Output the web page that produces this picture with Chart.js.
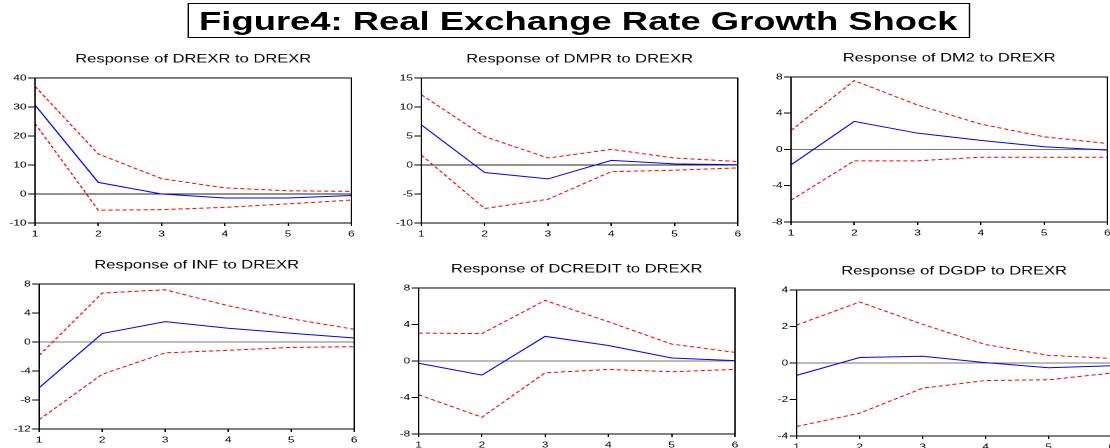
<!DOCTYPE html>
<html>
<head>
<meta charset="utf-8">
<title>Figure4: Real Exchange Rate Growth Shock</title>
<script src="https://cdn.jsdelivr.net/npm/chart.js@4.4.1/dist/chart.umd.min.js"></script>
<style>
html, body { margin: 0; padding: 0; background: #fff; overflow: hidden; width: 1110px; height: 448px; }
/* the source picture is stretched sideways, so the page is laid out narrow and widened */
#page { position: absolute; left: 0; top: 0; width: 793px; height: 448px; transform: scaleX(1.4); transform-origin: 0 0; }
#fig { position: absolute; left: 133.6px; top: 3px; width: 557px; height: 33px; border: 1px solid #000;
       font: bold 26px "Liberation Sans", Arial, sans-serif; text-align: center; line-height: 34px; color: #000; }
.panel { position: absolute; }
</style>
</head>
<body>
<div id="page">
  <div id="fig">Figure4: Real Exchange Rate Growth Shock</div>
  <div class="panel" style="left:1px;top:53px;width:256px;height:186px"><canvas id="c1"></canvas></div>
  <div class="panel" style="left:277px;top:53px;width:256px;height:186px"><canvas id="c2"></canvas></div>
  <div class="panel" style="left:541px;top:52px;width:256px;height:186px"><canvas id="c3"></canvas></div>
  <div class="panel" style="left:4px;top:259px;width:255px;height:186px"><canvas id="c4"></canvas></div>
  <div class="panel" style="left:275px;top:263px;width:256px;height:187px"><canvas id="c5"></canvas></div>
  <div class="panel" style="left:545px;top:265px;width:255px;height:187px"><canvas id="c6"></canvas></div>
</div>
<script>
const periods = ['1', '2', '3', '4', '5', '6'];

// response of each variable to a DREXR shock, with +/- 2 s.e. bands
const drexrResp  = [30.7, 4.0, 0.0, -1.4, -1.4, -0.5];
const drexrUpper = [37.1, 13.8, 5.3, 2.1, 1.1, 0.9];
const drexrLower = [24.3, -5.6, -5.4, -4.6, -3.4, -2.1];

const dmprResp  = [6.9, -1.3, -2.4, 0.8, 0.2, 0.05];
const dmprUpper = [12.1, 4.9, 1.2, 2.7, 1.2, 0.6];
const dmprLower = [1.7, -7.5, -5.9, -1.15, -0.9, -0.5];

const dm2Resp  = [-1.7, 3.1, 1.8, 1.0, 0.3, -0.07];
const dm2Upper = [2.1, 7.6, 4.9, 2.8, 1.4, 0.66];
const dm2Lower = [-5.6, -1.25, -1.25, -0.85, -0.85, -0.85];

const infResp  = [-6.3, 1.16, 2.8, 1.9, 1.2, 0.55];
const infUpper = [-1.85, 6.75, 7.2, 5.0, 3.2, 1.75];
const infLower = [-10.7, -4.45, -1.5, -1.15, -0.75, -0.65];

const dcreditResp  = [-0.25, -1.55, 2.7, 1.7, 0.33, 0.04];
const dcreditUpper = [3.06, 3.0, 6.64, 4.3, 1.85, 0.95];
const dcreditLower = [-3.7, -6.16, -1.3, -0.92, -1.18, -0.92];

const dgdpResp  = [-0.68, 0.3, 0.37, 0.02, -0.26, -0.15];
const dgdpUpper = [2.08, 3.34, 2.12, 1.01, 0.42, 0.25];
const dgdpLower = [-3.48, -2.75, -1.38, -0.96, -0.92, -0.55];

const panelTitles = [
  'Response of DREXR to DREXR', 'Response of DMPR to DREXR', 'Response of DM2 to DREXR',
  'Response of INF to DREXR', 'Response of DCREDIT to DREXR', 'Response of DGDP to DREXR'
];
const yMins  = [-10, -10, -8, -12, -8, -4];
const yMaxs  = [40, 15, 8, 8, 8, 4];
const ySteps = [10, 5, 4, 4, 4, 2];

const tickFont = { family: 'Liberation Sans', size: 8.5 };

const frame = {
  id: 'frame',
  afterDraw(chart) {
    const { ctx, chartArea: a } = chart;
    ctx.save();
    ctx.strokeStyle = '#000';
    ctx.lineWidth = 1;
    ctx.strokeRect(a.left, a.top, a.right - a.left, a.bottom - a.top);
    ctx.restore();
  }
};

function makeChart(id, title, resp, upper, lower, yMin, yMax, yStep, zeroColor) {
  const band = data => ({
    data: data, borderColor: '#ff0000', borderWidth: 1, borderDash: [3, 2],
    pointRadius: 0, fill: false, tension: 0
  });
  return new Chart(document.getElementById(id), {
    type: 'line',
    data: {
      labels: periods,
      datasets: [
        band(upper),
        band(lower),
        { data: resp, borderColor: '#0000ff', borderWidth: 1, pointRadius: 0, fill: false, tension: 0 }
      ]
    },
    options: {
      responsive: true,
      maintainAspectRatio: false,
      devicePixelRatio: 2,
      animation: false,
      layout: { padding: { left: 0, right: 6, top: 0, bottom: 0 } },
      plugins: {
        legend: { display: false },
        tooltip: { enabled: false },
        title: {
          display: true, text: title, fullSize: false, color: '#000',
          font: { family: 'Liberation Sans', size: 11.8, weight: 'normal', lineHeight: 1.1 },
          padding: { top: 0, bottom: 12 }
        }
      },
      scales: {
        x: {
          afterFit: s => { s.height = 16; },
          border: { color: '#000' },
          grid: { drawOnChartArea: false, tickLength: 3, tickColor: '#000' },
          ticks: { color: '#000', font: tickFont, padding: 3, maxRotation: 0, autoSkip: false }
        },
        y: {
          min: yMin, max: yMax,
          afterFit: s => { s.width = 24; },
          border: { color: '#000' },
          grid: {
            color: c => (c.tick && c.tick.value === 0 ? zeroColor : 'rgba(0,0,0,0)'),
            tickColor: '#000', tickLength: 5
          },
          ticks: { stepSize: yStep, color: '#000', font: tickFont, padding: 1, autoSkip: false }
        }
      }
    },
    plugins: [frame]
  });
}

makeChart('c1', panelTitles[0], drexrResp, drexrUpper, drexrLower, yMins[0], yMaxs[0], ySteps[0], '#222');
makeChart('c2', panelTitles[1], dmprResp, dmprUpper, dmprLower, yMins[1], yMaxs[1], ySteps[1], '#222');
makeChart('c3', panelTitles[2], dm2Resp, dm2Upper, dm2Lower, yMins[2], yMaxs[2], ySteps[2], '#777');
makeChart('c4', panelTitles[3], infResp, infUpper, infLower, yMins[3], yMaxs[3], ySteps[3], '#777');
makeChart('c5', panelTitles[4], dcreditResp, dcreditUpper, dcreditLower, yMins[4], yMaxs[4], ySteps[4], '#777');
makeChart('c6', panelTitles[5], dgdpResp, dgdpUpper, dgdpLower, yMins[5], yMaxs[5], ySteps[5], '#777');
</script>
</body>
</html>
